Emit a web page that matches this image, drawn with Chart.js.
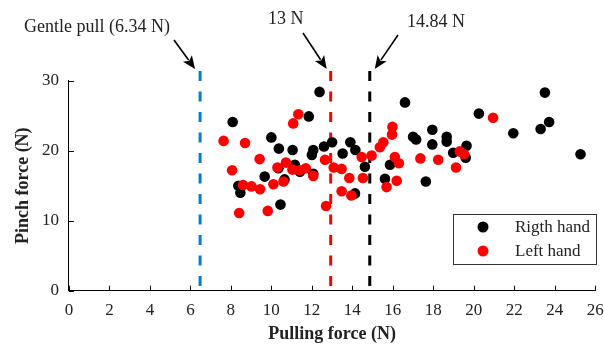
<!DOCTYPE html>
<html><head><meta charset="utf-8">
<script src="https://cdn.jsdelivr.net/npm/chart.js@4/dist/chart.umd.min.js"></script>
<style>html,body{margin:0;padding:0;background:#fff}#wrap{width:604px;height:347px;position:relative}</style>
</head><body><div id="wrap"><canvas id="c" width="604" height="347"></canvas></div>
<script>
// ---- data ----
const rightHandX = [8.09,8.37,8.47,9.67,10.0,10.35,10.37,10.45,10.65,11.05,11.16,11.41,11.85,12.07,12.0,12.07,12.38,12.6,13.0,13.52,13.9,14.15,14.62,14.13,15.86,15.61,16.6,17.0,17.15,17.95,17.95,18.66,18.66,19.64,18.98,19.6,17.63,20.25,21.95,23.3,23.72,23.51,25.27];
const rightHandY = [24.1,15.0,14.0,16.3,21.9,17.5,20.3,12.3,15.9,20.1,18.0,17.0,24.9,16.7,19.4,20.1,28.4,20.6,21.2,19.6,21.2,20.1,17.7,13.9,18.0,16.0,26.9,22.0,21.6,23.0,20.9,22.0,21.3,20.7,19.7,19.0,15.6,25.3,22.5,23.1,24.1,28.3,19.5];
const leftHandX = [7.64,8.7,9.42,8.06,8.6,9.02,9.44,10.1,10.6,10.3,10.72,11.04,11.4,11.7,12.07,11.33,11.08,8.41,9.82,12.7,12.65,13.08,13.47,13.85,13.47,13.95,14.46,14.95,15.36,15.53,15.96,15.98,16.1,16.3,17.36,18.24,19.12,19.31,19.52,14.52,16.19,15.69,20.95];
const leftHandY = [21.4,21.1,18.8,17.2,15.1,14.9,14.5,15.2,15.6,17.6,18.3,17.3,17.2,17.5,16.4,25.2,23.9,11.1,11.4,12.1,18.7,17.6,17.4,16.1,14.2,13.6,19.1,19.3,20.5,21.2,22.3,23.4,19.1,18.2,18.9,18.7,17.6,19.9,19.5,16.1,15.7,14.8,24.7];
const thresholdX = [6.48, 12.93, 14.86];
const thresholdTop = 31.4;
const thresholdLabels = ['Gentle pull (6.34 N)', '13 N', '14.84 N'];
const seriesNames = ['Rigth hand', 'Left hand'];
const xTicks = [0,2,4,6,8,10,12,14,16,18,20,22,24,26];
const yTicks = [0,10,20,30];
const xTitle = 'Pulling force (N)';
const yTitle = 'Pinch force (N)';

const FONT = '"Liberation Serif", "Times New Roman", serif';
const lineColors = ['#0a7acb', '#ff0000', '#000000'];

function pts(xs, ys){ return xs.map((x,i)=>({x:x, y:ys[i]})); }

const datasets = [];
thresholdX.forEach((v,i)=>{
  datasets.push({
    label: 'thr'+i, data:[{x:v,y:thresholdTop},{x:v,y:0}],
    showLine:true, borderColor:lineColors[i], borderWidth:3, borderDash:[10,10.5],
    pointRadius:0, clip:false, order:3
  });
});
datasets.push({label:seriesNames[0], data:pts(rightHandX,rightHandY), backgroundColor:'#000', borderColor:'#000', pointRadius:5.3, borderWidth:0, order:2});
datasets.push({label:seriesNames[1], data:pts(leftHandX,leftHandY), backgroundColor:'#ff0000', borderColor:'#ff0000', pointRadius:5.3, borderWidth:0, order:1});

const decor = {
  id:'decor',
  afterDraw(chart){
    const ctx = chart.ctx, xs = chart.scales.x, ys = chart.scales.y;
    ctx.save();
    // inward ticks
    ctx.strokeStyle = '#000'; ctx.lineWidth = 1;
    const b = ys.getPixelForValue(0), l = xs.getPixelForValue(0);
    xTicks.forEach(v=>{ const px = Math.round(xs.getPixelForValue(v))+0.5; ctx.beginPath(); ctx.moveTo(px,b); ctx.lineTo(px,b-5); ctx.stroke(); });
    yTicks.forEach(v=>{ const py = Math.round(ys.getPixelForValue(v))+0.5; ctx.beginPath(); ctx.moveTo(l,py); ctx.lineTo(l+5,py); ctx.stroke(); });
    // annotations
    ctx.font = '18px ' + FONT; ctx.textBaseline = 'alphabetic';
    const topY = ys.getPixelForValue(thresholdTop);
    const specs = [
      {text:thresholdLabels[0], tx:24, ty:32, from:[174,40], tipDx:-5},
      {text:thresholdLabels[1], tx:268, ty:24, from:[303,33], tipDx:-4},
      {text:thresholdLabels[2], tx:407, ty:27, from:[398,35], tipDx:5}
    ];
    specs.forEach((s,i)=>{
      ctx.fillStyle = '#222';
      ctx.textAlign = 'left';
      ctx.fillText(s.text, s.tx, s.ty);
      const tip = [xs.getPixelForValue(thresholdX[i]) + s.tipDx, topY - 2];
      const ang = Math.atan2(tip[1]-s.from[1], tip[0]-s.from[0]);
      const hl = 13, hw = 5.5;
      const base = [tip[0]-hl*Math.cos(ang), tip[1]-hl*Math.sin(ang)];
      ctx.strokeStyle = '#000'; ctx.lineWidth = 1.6;
      ctx.beginPath(); ctx.moveTo(s.from[0], s.from[1]); ctx.lineTo(base[0]+2*Math.cos(ang), base[1]+2*Math.sin(ang)); ctx.stroke();
      ctx.fillStyle = '#000';
      ctx.beginPath();
      ctx.moveTo(tip[0], tip[1]);
      ctx.lineTo(base[0] - hw*Math.sin(ang), base[1] + hw*Math.cos(ang));
      ctx.lineTo(base[0] + 3*Math.cos(ang), base[1] + 3*Math.sin(ang));
      ctx.lineTo(base[0] + hw*Math.sin(ang), base[1] - hw*Math.cos(ang));
      ctx.closePath(); ctx.fill();
    });
    // legend
    ctx.strokeStyle = '#333'; ctx.lineWidth = 1;
    ctx.strokeRect(453.5, 214.5, 143, 50);
    ctx.font = '17px ' + FONT; ctx.textBaseline = 'middle'; ctx.textAlign = 'left';
    const lc = ['#000','#ff0000'];
    [227, 251].forEach((yy,i)=>{
      ctx.fillStyle = lc[i]; ctx.beginPath(); ctx.arc(483, yy, 5.5, 0, Math.PI*2); ctx.fill();
      ctx.fillStyle = '#222'; ctx.fillText(seriesNames[i], 515, yy+1);
    });
    ctx.restore();
  }
};

new Chart(document.getElementById('c'), {
  type:'scatter',
  data:{datasets},
  options:{
    responsive:false, animation:false, devicePixelRatio:1,
    layout:{padding:{left:0, right:8.7, top:80.7, bottom:0}},
    plugins:{legend:{display:false}, tooltip:{enabled:false}},
    scales:{
      x:{type:'linear', min:0, max:26,
        afterBuildTicks(s){ s.ticks = xTicks.map(v=>({value:v})); },
        afterFit(s){ s.height = 56.3; s.paddingLeft = 0; s.paddingRight = 0; },
        grid:{display:true, drawOnChartArea:false, drawTicks:false},
        border:{display:true, color:'#000', width:1},
        ticks:{color:'#222', font:{family:FONT, size:17}, padding:10, maxRotation:0, autoSkip:false},
        title:{display:true, text:xTitle, color:'#222', font:{family:FONT, size:18, weight:'bold'}, padding:{top:0,bottom:2}}
      },
      y:{type:'linear', min:0, max:30,
        afterBuildTicks(s){ s.ticks = yTicks.map(v=>({value:v})); },
        afterFit(s){ s.width = 68.9; s.paddingTop = 0; s.paddingBottom = 0; },
        grid:{display:true, drawOnChartArea:false, drawTicks:false},
        border:{display:true, color:'#000', width:1},
        ticks:{color:'#222', font:{family:FONT, size:17}, padding:10},
        title:{display:true, text:yTitle, color:'#222', font:{family:FONT, size:18, weight:'bold'}, padding:{top:13,bottom:0}}
      }
    }
  },
  plugins:[decor]
});
</script></body></html>
